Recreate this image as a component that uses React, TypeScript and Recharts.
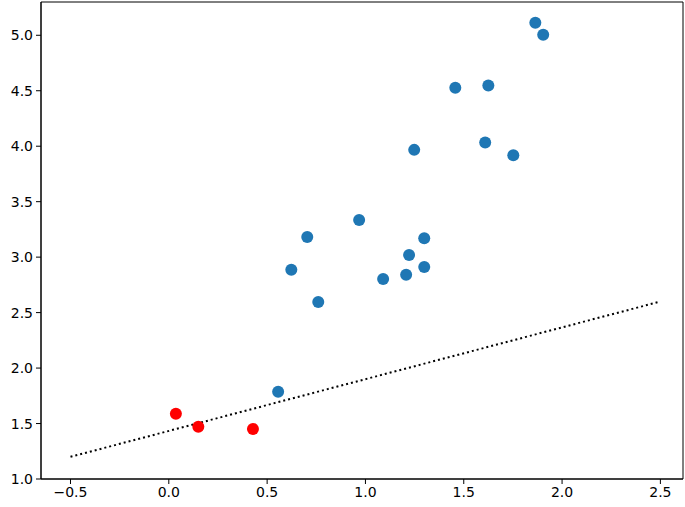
import { ScatterChart, Scatter, XAxis, YAxis, ReferenceLine, ReferenceArea } from 'recharts';

// blue group
const blueX = [0.556, 0.623, 0.704, 0.760, 0.968, 1.090, 1.207, 1.222, 1.299, 1.299, 1.248, 1.457, 1.625, 1.609, 1.752, 1.864, 1.904];
const blueY = [1.787, 2.887, 3.182, 2.596, 3.335, 2.803, 2.842, 3.020, 3.170, 2.912, 3.967, 4.526, 4.547, 4.033, 3.919, 5.112, 5.004];

// red group
const redX = [0.036, 0.150, 0.428];
const redY = [1.589, 1.472, 1.451];

// dotted line end points
const lineX = [-0.5, 2.5];
const lineY = [1.2, 2.6];

const xTicks = [-0.5, 0, 0.5, 1, 1.5, 2, 2.5];
const yTicks = [1, 1.5, 2, 2.5, 3, 3.5, 4, 4.5, 5];

const xDomain = [-0.65, 2.615];
const yDomain = [1.0, 5.3];

const blue = blueX.map((x, i) => ({ x, y: blueY[i] }));
const red = redX.map((x, i) => ({ x, y: redY[i] }));

const fmt = (v: number) => v.toFixed(1).replace('-', '\u2212');
const tickStyle = { fill: '#000', fontSize: 14, fontFamily: 'DejaVu Sans' };

const Dot = (props: any) => <circle cx={props.cx} cy={props.cy} r={6} fill={props.fill} />;

export default function App() {
  return (
    <div style={{ position: 'absolute', left: 0, top: 0, background: '#fff' }}>
      <ScatterChart width={685} height={507} margin={{ top: 2, right: 2, bottom: 0, left: 0 }}>
        <XAxis
          type="number"
          dataKey="x"
          domain={xDomain}
          ticks={xTicks}
          tickFormatter={fmt}
          tick={tickStyle}
          tickSize={5}
          tickMargin={3}
          height={28}
          allowDataOverflow
          stroke="#000"
        />
        <YAxis
          type="number"
          dataKey="y"
          domain={yDomain}
          ticks={yTicks}
          tickFormatter={fmt}
          tick={tickStyle}
          tickSize={5}
          tickMargin={3}
          width={41}
          allowDataOverflow
          stroke="#000"
        />
        <ReferenceArea
          x1={xDomain[0]}
          x2={xDomain[1]}
          y1={yDomain[0]}
          y2={yDomain[1]}
          fill="none"
          fillOpacity={0}
          stroke="#000"
          strokeWidth={1}
          ifOverflow="visible"
        />
        <ReferenceLine
          segment={[{ x: lineX[0], y: lineY[0] }, { x: lineX[1], y: lineY[1] }]}
          stroke="#000"
          strokeWidth={2}
          strokeDasharray="2 3"
        />
        <Scatter data={blue} fill="#1f77b4" shape={<Dot />} isAnimationActive={false} />
        <Scatter data={red} fill="#ff0000" shape={<Dot />} isAnimationActive={false} />
      </ScatterChart>
    </div>
  );
}
